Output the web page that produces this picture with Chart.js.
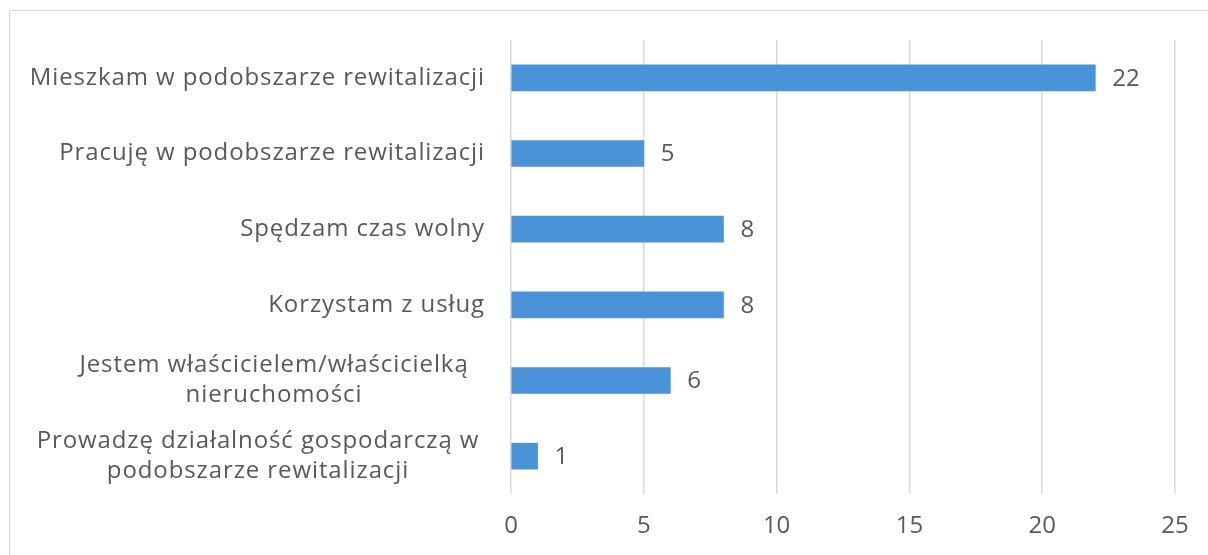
<!DOCTYPE html>
<html><head><meta charset="utf-8">
<script src="https://cdn.jsdelivr.net/npm/chart.js@4/dist/chart.umd.min.js"></script>
<style>html,body{margin:0;padding:0;background:#fff;}#wrap{width:1208px;height:555px;position:relative;}</style>
</head><body><div id="wrap"><canvas id="c" width="1208" height="555"></canvas></div>
<script>
const categories = [
  ["Mieszkam w podobszarze rewitalizacji"],
  ["Pracuję w podobszarze rewitalizacji"],
  ["Spędzam czas wolny"],
  ["Korzystam z usług"],
  ["Jestem właścicielem/właścicielką", "nieruchomości"],
  ["Prowadzę działalność gospodarczą w", "podobszarze rewitalizacji"]
];
const values = [22, 5, 8, 8, 6, 1];
const xTicks = [0, 5, 10, 15, 20, 25];

const FONT = '"Open Sans", sans-serif';
const FSIZE = 24;
const TXT = '#595959';
// wrapped label boxes: horizontal centre of the text block (style only)
const WRAP_CENTER = { 4: 274, 5: 258 };

const overlay = {
  id: 'overlay',
  afterDraw(chart) {
    const ctx = chart.ctx;
    const y = chart.scales.y, x = chart.scales.x;
    ctx.save();
    ctx.strokeStyle = '#d9d9d9'; ctx.lineWidth = 1;
    ctx.strokeRect(9.5, 10.5, 1300, 700);
    ctx.font = FSIZE + 'px ' + FONT;
    ctx.fillStyle = TXT;
    ctx.textBaseline = 'middle';
    const lh = 30;
    categories.forEach((lines, i) => {
      const cy = y.getPixelForValue(i);
      ctx.letterSpacing = '0.9px';
      let cx;
      if (WRAP_CENTER[i] !== undefined) {
        cx = WRAP_CENTER[i];
      } else {
        const maxW = Math.max(...lines.map(l => ctx.measureText(l).width));
        cx = x.left - 26 - maxW / 2;
      }
      ctx.textAlign = 'center';
      lines.forEach((l, j) => {
        const ly = cy + (j - (lines.length - 1) / 2) * lh;
        ctx.fillText(l, cx, ly);
      });
      ctx.letterSpacing = '0px';
      ctx.textAlign = 'left';
      ctx.fillText(String(values[i]), x.getPixelForValue(values[i]) + 17, cy + 1);
    });
    ctx.restore();
  }
};

new Chart(document.getElementById('c'), {
  type: 'bar',
  data: {
    labels: categories,
    datasets: [{ data: values, backgroundColor: '#4a93d9', barThickness: 26 }]
  },
  options: {
    indexAxis: 'y',
    responsive: false,
    animation: false,
    layout: { padding: { top: 40, right: 33, left: 0, bottom: 0 } },
    plugins: { legend: { display: false }, tooltip: { enabled: false } },
    scales: {
      x: {
        min: 0, max: 25,
        afterBuildTicks(s) { s.ticks = xTicks.map(v => ({ value: v })); },
        afterFit(s) { s.height = 61; },
        grid: { color: '#d9d9d9', lineWidth: 1.5, drawTicks: false },
        border: { display: false },
        ticks: { color: TXT, font: { family: FONT, size: FSIZE }, padding: 18 }
      },
      y: {
        afterFit(s) { s.width = 511; },
        grid: { display: false },
        border: { display: false },
        ticks: { display: false }
      }
    }
  },
  plugins: [overlay]
});
</script></body></html>
